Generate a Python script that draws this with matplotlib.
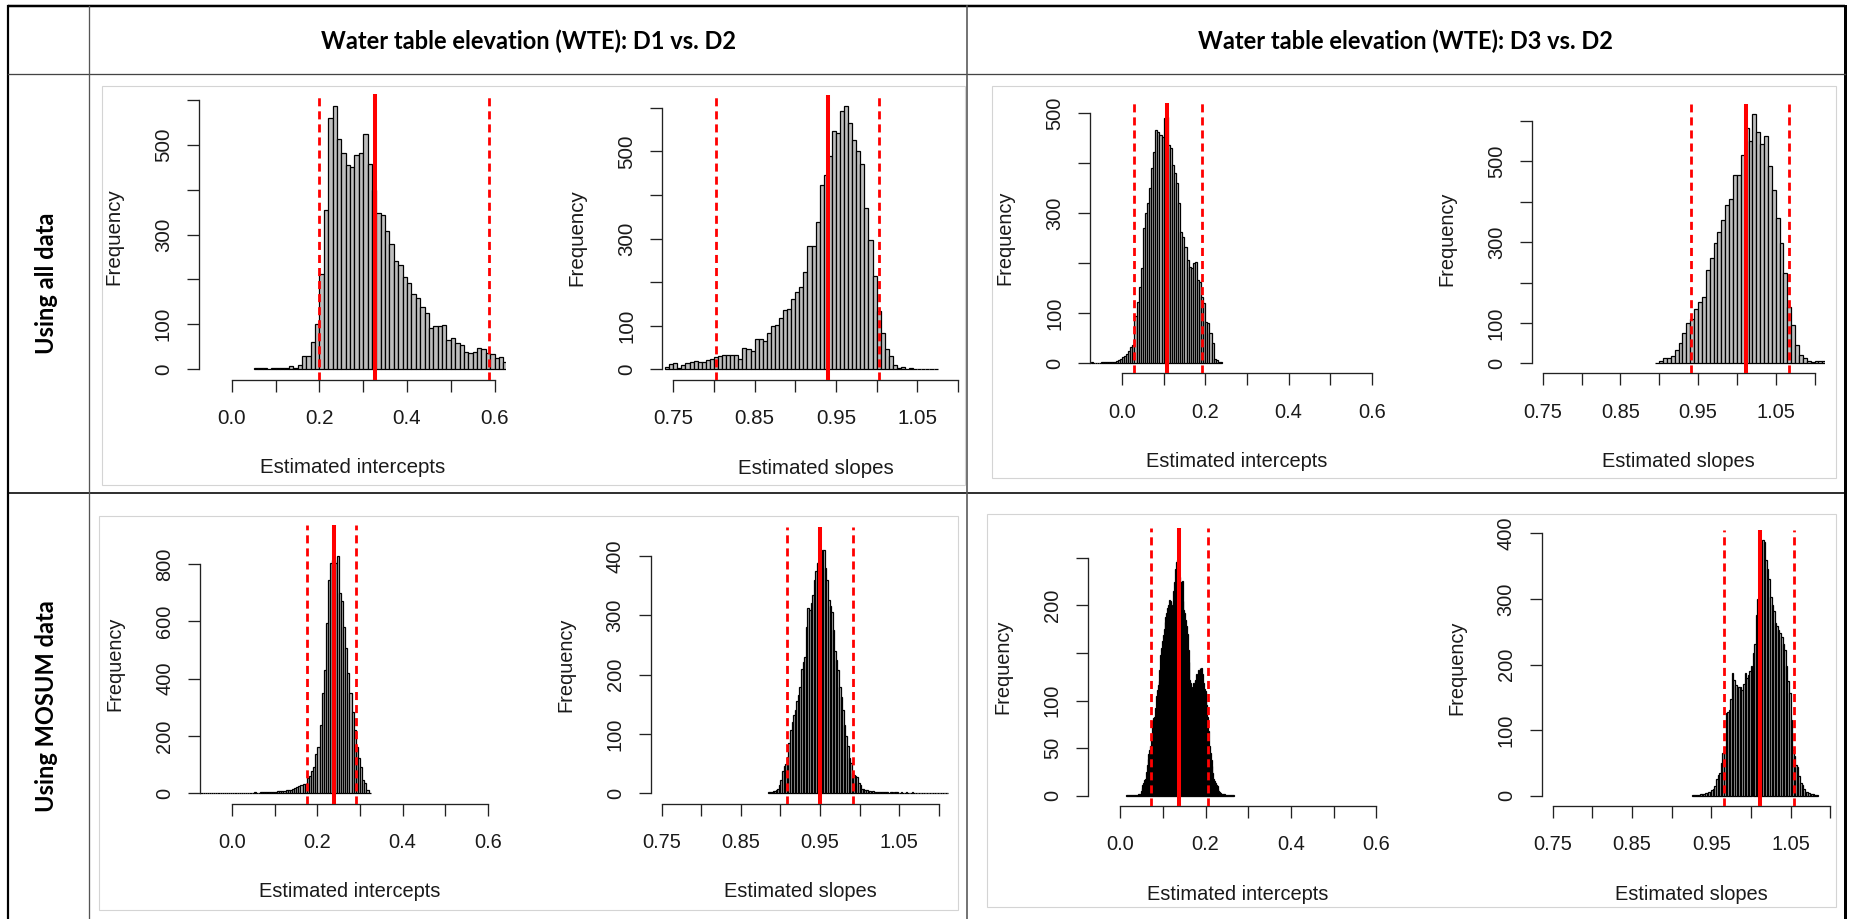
import matplotlib.pyplot as plt
from matplotlib.patches import Rectangle
import numpy as np

plt.rcParams['font.family'] = ['Liberation Sans', 'DejaVu Sans']

W, H = 1853, 919

# table headings
col_titles = ['Water table elevation (WTE): D1 vs. D2', 'Water table elevation (WTE): D3 vs. D2']
row_titles = ['Using all data', 'Using MOSUM data']

# bootstrap histograms: first bin start, bin width, counts
# dashed = 2.5 / 97.5 % bounds, solid = estimate
a_start, a_width = 0.05, 0.01
a_counts = [2, 2, 2, 1, 2, 2, 2, 3, 6, 3, 9, 28, 30, 60, 101, 212, 354, 561, 586, 513,
            482, 456, 450, 478, 482, 524, 457, 400, 348, 343, 307, 280, 240, 233, 205, 192, 168, 158, 138, 125,
            91, 97, 97, 99, 65, 69, 57, 54, 39, 36, 38, 48, 45, 36, 33, 25, 27, 15]
a_lines = [0.198, 0.326, 0.587]

b_start, b_width = 0.74, 0.005
b_counts = [6, 12, 15, 4, 11, 14, 17, 19, 18, 17,
            21, 25, 28, 31, 34, 34, 34, 34, 25, 50,
            46, 42, 70, 70, 65, 83, 100, 102, 117, 136,
            139, 161, 178, 190, 224, 282, 284, 339, 423, 446,
            490, 546, 542, 592, 605, 565, 527, 500, 471, 370,
            297, 214, 135, 83, 48, 31, 10, 4, 6, 2,
            3, 2, 2, 2, 2, 1, 2]
b_lines = [0.803, 0.940, 1.003]

c_start, c_width = -0.075, 0.005
c_counts = [2, 1, 0, 1, 1, 2, 2, 2, 2, 2, 2, 3, 4, 7, 9, 12, 15, 19, 25, 33,
            37, 95, 123, 153, 190, 270, 300, 320, 350, 390, 423, 467, 463, 457, 453,
            490, 493, 437, 430, 397, 380, 360, 320, 263, 253, 233, 207, 193, 190, 201,
            203, 167, 163, 133, 120, 83, 80, 60, 40, 8, 7, 3, 3]
c_lines = [0.030, 0.107, 0.193]

d_start, d_width = 0.895, 0.005
d_counts = [2, 7, 12, 13, 18, 33, 50, 74, 99, 109, 134, 151, 164, 231, 260, 298, 325, 354, 393, 407,
            467, 467, 515, 583, 552, 617, 572, 544, 562, 488, 430, 360, 298, 223, 140, 95, 45, 21, 12, 6,
            3, 7, 5, 7]
d_lines = [0.941, 1.0113, 1.0667]

e_start, e_width = -0.09, 0.005
e_counts = [1, 1, 2, 1, 0, 2, 1, 1, 2, 0, 1, 1, 2, 1, 1, 1, 2, 0, 1, 1,
            2, 1, 1, 2, 2, 2, 1, 2, 3, 2, 2, 3, 3, 4, 3, 4, 5, 5,
            6, 7, 7, 8, 9, 10, 12, 13, 14, 18, 23, 26, 29, 31, 33, 55, 60, 76, 93, 137,
            163, 238, 349, 430, 593, 744, 802, 814, 805, 828, 698, 672, 581, 506, 419,
            349, 285, 221, 163, 122, 91, 47, 35, 12, 2]
e_lines = [0.1746, 0.2396, 0.2897]

f_start, f_width = 0.884, 0.002
f_counts = [2, 3, 3, 4, 4, 5, 8, 14,
            22, 38, 46, 50, 62, 85, 107, 120, 132, 140,
            155, 165, 180, 210, 222, 230, 280, 312, 309, 320,
            334, 360, 375, 388, 390, 395, 410, 410, 380, 360,
            326, 315, 306, 275, 240, 225, 208, 180, 163, 140,
            115, 96, 79, 60, 51, 34, 31, 30, 28, 18,
            14, 8, 7, 6, 5, 4, 4, 3, 4, 3,
            3, 2, 3, 2, 2, 3, 2, 2, 1, 2,
            2, 1, 2, 2, 1, 1, 2, 1, 1, 2,
            1, 1, 1, 2, 1, 0, 1, 1, 1, 1,
            1, 0, 1, 1, 1, 1, 0, 1, 1, 1,
            1, 1, 0, 1, 1, 1]
f_lines = [0.9087, 0.950, 0.9913]

g_start, g_width = 0.014, 0.002
g_counts = [1, 1, 1, 1, 0, 1, 1, 1, 1, 1, 1, 1, 1,
            1, 2, 2, 2, 5, 8, 11, 13, 16, 18,
            25, 32, 39, 44, 48, 52, 62, 78, 80, 82,
            83, 92, 105, 111, 116, 120, 132, 148, 155, 162,
            169, 175, 182, 188, 192, 197, 200, 206, 205, 204,
            200, 197, 215, 224, 238, 245, 246, 248, 240, 230,
            224, 225, 226, 205, 195, 192, 185, 178, 170, 153,
            140, 122, 118, 114, 113, 118, 115, 120, 122, 128,
            118, 132, 122, 134, 130, 134, 128, 118, 112, 110,
            108, 95, 83, 68, 52, 45, 38, 31, 24, 18,
            15, 13, 11, 10, 7, 5, 4, 3, 2, 2,
            2, 1, 2, 1, 1, 1, 1, 1, 0, 1, 1, 1, 1]
g_lines = [0.0733, 0.137, 0.206]

h_start, h_width = 0.926, 0.002
h_counts = [1, 1, 1, 1, 1, 2, 2, 3, 4, 4,
            6, 6, 9, 11, 15, 25, 32, 34, 50, 65,
            75, 126, 128, 131, 148, 187, 176, 169, 166, 166,
            165, 161, 171, 187, 179, 184, 190, 197, 217, 232,
            275, 300, 321, 319, 390, 387, 359, 345, 331, 303,
            290, 281, 263, 258, 252, 248, 242, 232, 222, 197,
            175, 156, 115, 70, 60, 47, 44, 30, 20, 16,
            10, 6, 5, 4, 3, 2, 2, 1, 1]
h_lines = [0.966, 1.0116, 1.0538]

# axis ticks
int_xticks = [0.0, 0.1, 0.2, 0.3, 0.4, 0.5, 0.6]
int_xlabels = ['0.0', '', '0.2', '', '0.4', '', '0.6']
slope_xticks = [0.75, 0.80, 0.85, 0.90, 0.95, 1.00, 1.05, 1.10]
slope_xlabels = ['0.75', '', '0.85', '', '0.95', '', '1.05', '']
y600_ticks = [0, 100, 200, 300, 400, 500, 600]
y600_labels = ['0', '100', '', '300', '', '500', '']
y500_ticks = [0, 100, 200, 300, 400, 500]
y500_labels = ['0', '100', '', '300', '', '500']
y800_ticks = [0, 200, 400, 600, 800]
y800_labels = ['0', '200', '400', '600', '800']
y400_ticks = [0, 100, 200, 300, 400]
y400_labels = ['0', '100', '200', '300', '400']
y250_ticks = [0, 50, 100, 150, 200, 250]
y250_labels = ['0', '50', '100', '', '200', '']

INT_XLIM = (-0.076, 0.626)
SLOPE_XLIM = (0.736, 1.114)

# plot regions in pixels (left, top, right, bottom)
panels = [
    dict(start=a_start, bw=a_width, counts=a_counts, lines=a_lines, intercept=True,
         box=(198.7, 94.0, 505.9, 379.6), ylim=(-23.6, 613.6), yt=y600_ticks, yl=y600_labels, fs=14.8),
    dict(start=b_start, bw=b_width, counts=b_counts, lines=b_lines, intercept=False,
         box=(661.9, 95.0, 969.3, 380.0), ylim=(-24.2, 629.2), yt=y600_ticks, yl=y600_labels, fs=14.8),
    dict(start=c_start, bw=c_width, counts=c_counts, lines=c_lines, intercept=True,
         box=(1090.3, 103.3, 1382.8, 373.3), ylim=(-20.0, 520.0), yt=y500_ticks, yl=y500_labels, fs=14.4),
    dict(start=d_start, bw=d_width, counts=d_counts, lines=d_lines, intercept=False,
         box=(1531.8, 104.3, 1825.4, 373.3), ylim=(-24.7, 641.7), yt=y600_ticks, yl=y600_labels, fs=14.4),
    dict(start=e_start, bw=e_width, counts=e_counts, lines=e_lines, intercept=True,
         box=(200.0, 525.0, 498.8, 803.6), ylim=(-36.0, 936.0), yt=y800_ticks, yl=y800_labels, fs=14.4),
    dict(start=f_start, bw=f_width, counts=f_counts, lines=f_lines, intercept=False,
         box=(650.6, 526.7, 949.9, 803.6), ylim=(-17.3, 449.3), yt=y400_ticks, yl=y400_labels, fs=14.4),
    dict(start=g_start, bw=g_width, counts=g_counts, lines=g_lines, intercept=True,
         box=(1087.7, 528.4, 1387.6, 806.0), ylim=(-10.8, 280.8), yt=y250_ticks, yl=y250_labels, fs=14.4),
    dict(start=h_start, bw=h_width, counts=h_counts, lines=h_lines, intercept=False,
         box=(1541.6, 529.6, 1841.3, 806.0), ylim=(-15.6, 405.6), yt=y400_ticks, yl=y400_labels, fs=14.4),
]

frames = [(102, 86, 965, 485), (992, 86, 1836, 478), (99, 516, 958, 910), (987, 514, 1836, 907)]

fig = plt.figure(figsize=(W / 100, H / 100), dpi=100)
fig.patch.set_facecolor('white')

# table layer in pixel units
tab = fig.add_axes([0, 0, 1, 1])
tab.set_xlim(0, W)
tab.set_ylim(H, 0)
tab.axis('off')

for l, t, r, b in frames:
    tab.add_patch(Rectangle((l, t), r - l, b - t, fill=False, ec='#d4d4d4', lw=0.8))

px = 0.72  # points per pixel
tab.plot([8, 1845], [6, 6], color='black', lw=2.5 * px, solid_capstyle='butt')
tab.plot([8, 8], [6, H], color='black', lw=2.2 * px)
tab.plot([1845, 1845], [6, H], color='black', lw=3 * px)
tab.plot([8, 1845], [73.5, 73.5], color='#444444', lw=1.3 * px)
tab.plot([8, 1845], [493, 493], color='black', lw=1.6 * px)
tab.plot([89, 89], [6, H], color='#555555', lw=1.3 * px)
tab.plot([967, 967], [6, H], color='#555555', lw=1.6 * px)

head_font = dict(family=['Lato', 'DejaVu Sans'], fontweight='bold', fontsize=17, color='black')
tab.text(529, 41, col_titles[0], ha='center', va='center', **head_font)
tab.text(1406, 41, col_titles[1], ha='center', va='center', **head_font)
tab.text(47, 283, row_titles[0], ha='center', va='center', rotation=90, **head_font)
tab.text(47, 706, row_titles[1], ha='center', va='center', rotation=90, **head_font)

for p in panels:
    l, t, r, b = p['box']
    ax = fig.add_axes([l / W, 1 - b / H, (r - l) / W, (b - t) / H])
    ax.set_facecolor('none')
    counts = np.array(p['counts'])
    edges = p['start'] + p['bw'] * np.arange(len(counts))
    ax.bar(edges, counts, width=p['bw'], align='edge', color='#bebebe',
           edgecolor='black', linewidth=0.9, zorder=2)
    lo, mid, hi = p['lines']
    ax.axvline(lo, color='red', lw=2.0, ls=(0, (2.9, 1.8)), zorder=3)
    ax.axvline(mid, color='red', lw=2.9, zorder=3)
    ax.axvline(hi, color='red', lw=2.0, ls=(0, (2.9, 1.8)), zorder=3)

    if p['intercept']:
        xt, xl, xlim, xname = int_xticks, int_xlabels, INT_XLIM, 'Estimated intercepts'
    else:
        xt, xl, xlim, xname = slope_xticks, slope_xlabels, SLOPE_XLIM, 'Estimated slopes'
    ax.set_xlim(xlim)
    ax.set_ylim(p['ylim'])
    for s in ['top', 'right']:
        ax.spines[s].set_visible(False)
    for s in ['left', 'bottom']:
        ax.spines[s].set_linewidth(0.95)
        ax.spines[s].set_color('#222222')
    ax.spines['left'].set_bounds(p['yt'][0], p['yt'][-1])
    ax.spines['bottom'].set_bounds(xt[0], xt[-1])
    ax.set_xticks(xt)
    ax.set_xticklabels(xl)
    ax.set_yticks(p['yt'])
    ax.set_yticklabels(p['yl'], rotation=90, va='center')
    ax.tick_params(direction='out', length=8.6, width=0.95, color='#222222',
                   labelsize=p['fs'], labelcolor='#1a1a1a')
    ax.tick_params(axis='x', pad=12.5)
    ax.tick_params(axis='y', pad=10)
    ax.annotate(xname, xy=(0.5, 0), xycoords='axes fraction', xytext=(0, -88),
                textcoords='offset pixels', ha='center', va='center',
                fontsize=p['fs'], color='#1a1a1a')
    ax.annotate('Frequency', xy=(0, 0.5), xycoords='axes fraction', xytext=(-85, 0),
                textcoords='offset pixels', ha='center', va='center', rotation=90,
                fontsize=p['fs'], color='#1a1a1a')

fig.savefig('out.png', dpi=100)
